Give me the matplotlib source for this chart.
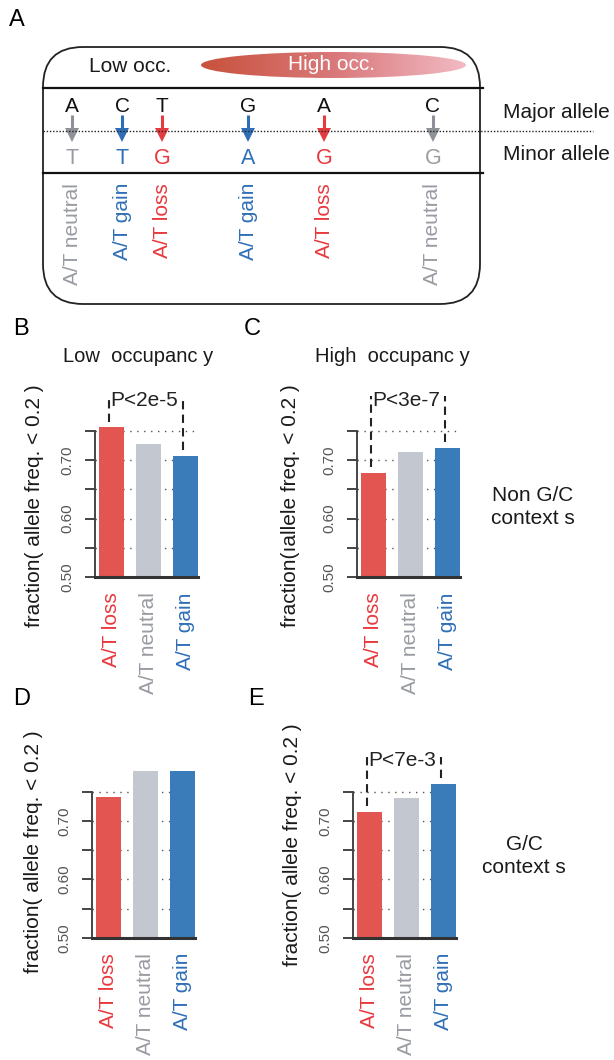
import matplotlib
matplotlib.use('Agg')
import matplotlib.pyplot as plt
import numpy as np
from matplotlib.patches import FancyBboxPatch, Ellipse, Polygon

plt.rcParams['font.family'] = ['Liberation Sans', 'DejaVu Sans']

# ---------------- data ----------------
categories = ['A/T loss', 'A/T neutral', 'A/T gain']
low_nongc = [0.756, 0.727, 0.708]
high_nongc = [0.678, 0.714, 0.721]
low_gc = [0.741, 0.786, 0.786]
high_gc = [0.715, 0.739, 0.763]
p_labels = ['P<2e-5', 'P<3e-7', None, 'P<7e-3']
y_ticks = [0.50, 0.55, 0.60, 0.65, 0.70, 0.75]
y_ticklabels = ['0.50', '', '0.60', '', '0.70', '']

major_allele = ['A', 'C', 'T', 'G', 'A', 'C']
minor_allele = ['T', 'T', 'G', 'A', 'G', 'G']
snp_class = ['A/T neutral', 'A/T gain', 'A/T loss', 'A/T gain', 'A/T loss', 'A/T neutral']

# colours
bar_col = {'A/T loss': '#e25550', 'A/T neutral': '#c3c7cf', 'A/T gain': '#3a7bb9'}
txt_col = {'A/T loss': '#e8383d', 'A/T neutral': '#989ba2', 'A/T gain': '#2f6fb7'}
arr_col = {'A/T loss': '#e23c40', 'A/T neutral': '#8e9197', 'A/T gain': '#2f6db5'}

W, H = 614, 1060
fig = plt.figure(figsize=(W / 100, H / 100), dpi=100)

# overlay axes in pixel coordinates (y down)
ov = fig.add_axes([0, 0, 1, 1])
ov.set_xlim(0, W)
ov.set_ylim(H, 0)
ov.axis('off')

# ---------------- panel A ----------------
ov.text(17, 20, 'A', fontsize=17, ha='center', va='center')
box = FancyBboxPatch((43, 47), 437, 257, boxstyle='round,pad=0,rounding_size=40',
                     fc='none', ec='#222222', lw=1.3)
ov.add_patch(box)
ov.plot([43, 483], [88, 88], color='#111111', lw=1.6)
ov.plot([43, 483], [173, 173], color='#111111', lw=1.6)
ov.plot([43, 593], [131, 131], color='#222222', lw=1.0, ls=(0, (1, 1.3)))

ov.text(130, 67, 'Low occ.', fontsize=15, ha='center', va='center', color='#1a1a1a')
# gradient ellipse
ell = Ellipse((333.5, 65), 265, 26, fc='none', ec='none')
ov.add_patch(ell)
grad = np.linspace(0, 1, 256).reshape(1, -1)
cmap = matplotlib.colors.LinearSegmentedColormap.from_list('occ', ['#c8523c', '#d9787a', '#f2bac4'])
im = ov.imshow(grad, cmap=cmap, extent=(201, 466, 78, 52), aspect='auto', zorder=1)
im.set_clip_path(ell)
ov.set_xlim(0, W)
ov.set_ylim(H, 0)
ov.text(331, 65, 'High occ.', fontsize=15, ha='center', va='center', color='white', zorder=2)

snp_x = [72, 122, 162, 248, 324, 433]
for x, maj, mnr, cls in zip(snp_x, major_allele, minor_allele, snp_class):
    ov.text(x, 107, maj, fontsize=15, ha='center', va='center', color='#111111')
    ov.plot([x, x], [115, 129], color=arr_col[cls], lw=2.2, solid_capstyle='butt')
    ov.add_patch(Polygon([[x - 7, 128], [x + 7, 128], [x, 142]], closed=True,
                         fc=arr_col[cls], ec='none'))
    ov.text(x, 159, mnr, fontsize=15.5, ha='center', va='center', color=txt_col[cls])
    ov.text(x, 183, cls, fontsize=15, ha='center', va='top', rotation=90, color=txt_col[cls])

ov.text(503, 113, 'Major allele', fontsize=15, ha='left', va='center', color='#1a1a1a')
ov.text(503, 154, 'Minor allele', fontsize=15, ha='left', va='center', color='#1a1a1a')

# ---------------- panels B-E ----------------
unit_x = 37.0
unit_y = 584.0
xlim = (-0.45, 2.34)
ylim = (0.5, 0.82)


def bar_panel(left_px, base_px, values, plabel):
    w = (xlim[1] - xlim[0]) * unit_x
    h = (ylim[1] - ylim[0]) * unit_y
    ax = fig.add_axes([left_px / W, 1 - base_px / H, w / W, h / H])
    ax.patch.set_alpha(0)
    ax.set_xlim(*xlim)
    ax.set_ylim(*ylim)
    ax.bar(range(3), np.array(values) - ylim[0], bottom=ylim[0], width=0.68,
           color=[bar_col[c] for c in categories], zorder=2)
    ax.set_yticks(y_ticks)
    ax.set_yticklabels(y_ticklabels, rotation=90, va='center')
    ax.yaxis.grid(True, linestyle=(0, (1, 4)), color='#555555', lw=1.0)
    ax.set_axisbelow(True)
    ax.tick_params(axis='y', length=7, width=1.4, color='#444444', pad=8,
                   labelsize=11, labelcolor='#555555')
    ax.set_xticks(range(3))
    ax.set_xticklabels(categories, rotation=90, va='top', ha='center', fontsize=15)
    for lab, c in zip(ax.get_xticklabels(), categories):
        lab.set_color(txt_col[c])
    ax.tick_params(axis='x', length=0, pad=11)
    ax.spines['top'].set_visible(False)
    ax.spines['right'].set_visible(False)
    ax.spines['left'].set_bounds(0.5, 0.75)
    ax.spines['left'].set_color('#444444')
    ax.spines['left'].set_linewidth(1.4)
    ax.spines['bottom'].set_color('#333333')
    ax.spines['bottom'].set_linewidth(2.2)
    ax.spines['bottom'].set_zorder(3)
    if plabel:
        top = 0.81
        for i in (0, 2):
            ax.plot([i - 0.06, i - 0.06], [values[i] + 0.01, top], color='#222222',
                    lw=1.5, ls=(0, (4, 2.5)), clip_on=False, zorder=3)
        ax.text(0.94 - 0.06, 0.803, plabel, fontsize=15, ha='center', va='center',
                color='#222222')
    return ax


axB = bar_panel(95, 577, low_nongc, p_labels[0])
axC = bar_panel(357, 577, high_nongc, p_labels[1])
axD = bar_panel(92, 937.7, low_gc, p_labels[2])
axE = bar_panel(353, 937.7, high_gc, p_labels[3])

ylab = 'fraction( allele freq. < 0.2 )'
ov.text(35, 506, ylab, fontsize=15, rotation=90, ha='center', va='center', color='#1a1a1a')
ov.text(290, 506, 'fraction(\u0131allele freq. < 0.2 )', fontsize=15, rotation=90,
        ha='center', va='center', color='#1a1a1a')
ov.text(34, 852, ylab, fontsize=15, rotation=90, ha='center', va='center', color='#1a1a1a')
ov.text(293, 845, ylab, fontsize=15, rotation=90, ha='center', va='center', color='#1a1a1a')

ov.text(21, 329, 'B', fontsize=17, ha='center', va='center')
ov.text(252, 329, 'C', fontsize=17, ha='center', va='center')
ov.text(22, 699, 'D', fontsize=17, ha='center', va='center')
ov.text(256, 699, 'E', fontsize=17, ha='center', va='center')

ov.text(138, 357, 'Low  occupanc y', fontsize=14.5, ha='center', va='center', color='#1a1a1a')
ov.text(392, 357, 'High  occupanc y', fontsize=14.5, ha='center', va='center', color='#1a1a1a')

ov.text(533, 507, 'Non G/C\ncontext s', fontsize=15, ha='center', va='center',
        color='#1a1a1a', linespacing=1.3)
ov.text(524, 856, 'G/C\ncontext s', fontsize=15, ha='center', va='center',
        color='#1a1a1a', linespacing=1.3)

fig.savefig('out.png', dpi=100)
